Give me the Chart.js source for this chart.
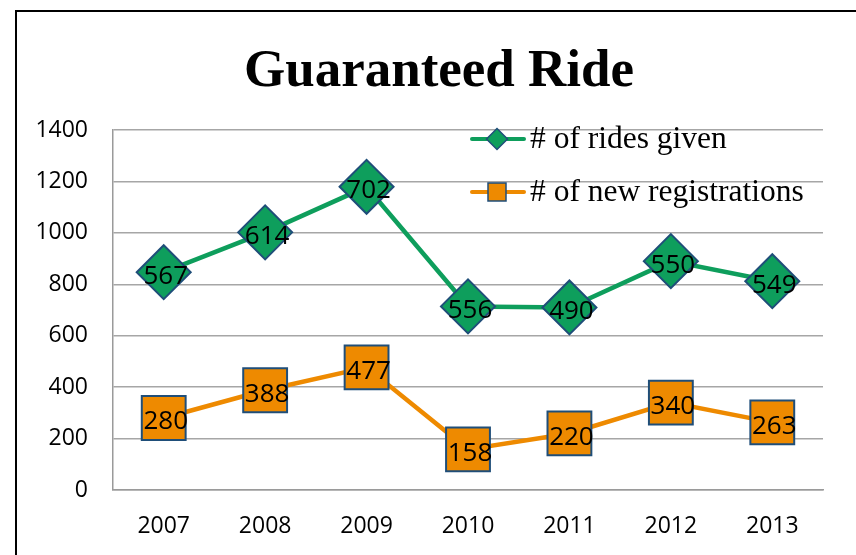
<!DOCTYPE html>
<html>
<head>
<meta charset="utf-8">
<script src="https://cdn.jsdelivr.net/npm/chart.js@4"></script>
<style>
html,body{margin:0;padding:0;background:#fff;}
#wrap{position:relative;width:856px;height:555px;}
</style>
</head>
<body>
<div id="wrap"><canvas id="c" width="856" height="555"></canvas></div>
<script>
const titleText = 'Guaranteed Ride';
const years = ['2007','2008','2009','2010','2011','2012','2013'];
const ridesGiven = [567, 614, 702, 556, 490, 550, 549];
const newRegistrations = [280, 388, 477, 158, 220, 340, 263];
const yTicks = [0, 200, 400, 600, 800, 1000, 1200, 1400];
const seriesNames = ['# of rides given', '# of new registrations'];

const GREEN = '#0E9E5C';
const ORANGE = '#EE8A00';
const MARKER_BORDER = '#1F4E79';
const TICK_FONT = '"Open Sans", "DejaVu Sans", sans-serif';

const framePlugin = {
  id: 'frame',
  beforeDraw(chart) {
    const ctx = chart.ctx;
    ctx.save();
    ctx.fillStyle = '#fff';
    ctx.fillRect(0, 0, chart.width, chart.height);
    ctx.strokeStyle = '#000';
    ctx.lineWidth = 2;
    ctx.beginPath();
    ctx.moveTo(16, 560);
    ctx.lineTo(16, 11);
    ctx.lineTo(860, 11);
    ctx.stroke();
    ctx.restore();
  },
  afterDraw(chart) {
    const ctx = chart.ctx;
    ctx.save();
    // title
    ctx.fillStyle = '#000';
    ctx.font = 'bold 53px "Liberation Serif", "Times New Roman", serif';
    ctx.textAlign = 'center';
    ctx.textBaseline = 'alphabetic';
    ctx.fillText(titleText, 439, 86);

    // data labels
    ctx.font = '26px ' + TICK_FONT;
    ctx.textBaseline = 'middle';
    const labelsArr = [ridesGiven, newRegistrations];
    chart.data.datasets.forEach((ds, i) => {
      const meta = chart.getDatasetMeta(i);
      meta.data.forEach((pt, j) => {
        ctx.fillText(String(labelsArr[ds.srcIndex][j]), pt.x + 2, pt.y + 4);
      });
    });

    // legend
    const items = [
      {name: seriesNames[0], color: GREEN, style: 'rectRot', y: 139},
      {name: seriesNames[1], color: ORANGE, style: 'rect', y: 192}
    ];
    items.forEach(it => {
      ctx.strokeStyle = it.color;
      ctx.lineWidth = 4;
      ctx.lineCap = 'round';
      ctx.beginPath();
      ctx.moveTo(472, it.y);
      ctx.lineTo(524, it.y);
      ctx.stroke();
      ctx.fillStyle = it.color;
      ctx.strokeStyle = MARKER_BORDER;
      ctx.lineWidth = 1.5;
      ctx.beginPath();
      if (it.style === 'rectRot') {
        ctx.moveTo(497 - 10.5, it.y); ctx.lineTo(497, it.y - 10.5); ctx.lineTo(497 + 10.5, it.y); ctx.lineTo(497, it.y + 10.5); ctx.closePath();
      } else {
        ctx.rect(497 - 9, it.y - 9, 18, 18);
      }
      ctx.fill(); ctx.stroke();
      ctx.fillStyle = '#000';
      ctx.font = '31.5px "Liberation Serif", "Times New Roman", serif';
      ctx.textAlign = 'left';
      ctx.textBaseline = 'middle';
      ctx.fillText(it.name, 530, it.y + 1);
    });
    ctx.restore();
  }
};

new Chart(document.getElementById('c'), {
  type: 'line',
  data: {
    labels: years,
    datasets: [
      {
        label: seriesNames[1],
        srcIndex: 1,
        data: newRegistrations,
        borderColor: ORANGE,
        backgroundColor: ORANGE,
        borderWidth: 4.5,
        pointStyle: 'rect',
        pointRadius: 31,
        pointHoverRadius: 31,
        pointBackgroundColor: ORANGE,
        pointBorderColor: MARKER_BORDER,
        pointBorderWidth: 2,
        tension: 0,
        fill: false
      },
      {
        label: seriesNames[0],
        srcIndex: 0,
        data: ridesGiven,
        borderColor: GREEN,
        backgroundColor: GREEN,
        borderWidth: 4.5,
        pointStyle: 'rectRot',
        pointRadius: 27,
        pointHoverRadius: 27,
        pointBackgroundColor: GREEN,
        pointBorderColor: MARKER_BORDER,
        pointBorderWidth: 2,
        tension: 0,
        fill: false
      }
    ]
  },
  options: {
    responsive: false,
    animation: false,
    events: [],
    layout: {padding: {left: 0, right: 26, top: 130, bottom: 0}},
    plugins: {legend: {display: false}, title: {display: false}, tooltip: {enabled: false}},
    scales: {
      x: {
        offset: true,
        grid: {display: false, drawTicks: false},
        border: {display: true, color: '#9A9A9A', width: 1.5},
        ticks: {color: '#000', font: {family: TICK_FONT, size: 23}, padding: 23, maxRotation: 0},
        afterFit(s) { s.height = 65; }
      },
      y: {
        stacked: true,
        min: 0, max: 1400,
        afterBuildTicks(s) { s.ticks = yTicks.map(v => ({value: v})); },
        grid: {color: '#A6A6A6', lineWidth: 1.5, drawTicks: false},
        border: {display: true, color: '#9A9A9A', width: 1.5},
        ticks: {color: '#000', font: {family: TICK_FONT, size: 23}, padding: 25, callback: v => String(v)},
        afterFit(s) { s.width = 113; }
      }
    }
  },
  plugins: [framePlugin]
});
</script>
</body>
</html>
